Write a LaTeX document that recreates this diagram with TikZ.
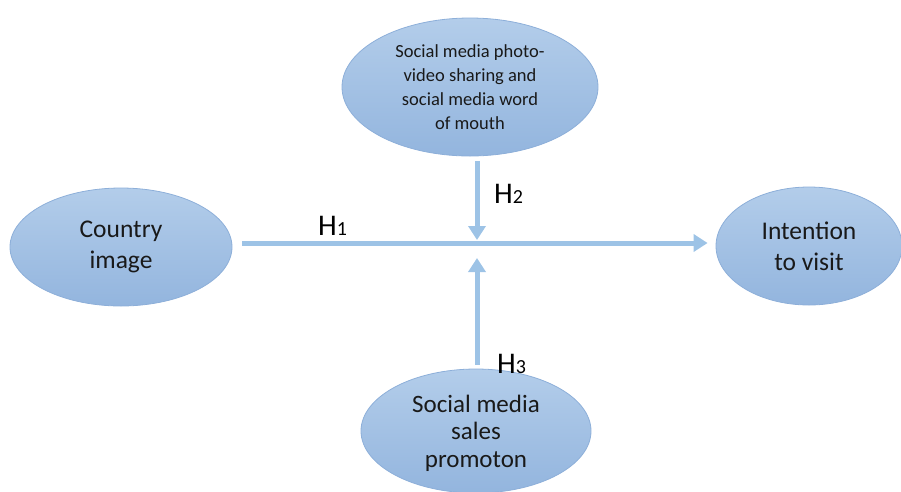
\documentclass[tikz,border=0pt]{standalone}
\usepackage{fontspec}
\setmainfont{Carlito}
\usetikzlibrary{arrows.meta,shapes.geometric}
\definecolor{ovaltop}{HTML}{B3CDEA}
\definecolor{ovalbot}{HTML}{93B5DE}
\definecolor{ovaledge}{HTML}{8DAFD9}
\definecolor{linkblue}{HTML}{9DC3E6}
\tikzset{
  oval/.style={ellipse, draw=ovaledge, line width=0.8pt, top color=ovaltop, bottom color=ovalbot,
    inner sep=0pt, align=center, text=black!90},
  bigtext/.style={font=\fontsize{25.5}{31}\selectfont},
  midtext/.style={font=\fontsize{25}{27.5}\selectfont},
  smalltext/.style={font=\fontsize{18.5}{24}\selectfont},
  link/.style={draw=linkblue, line width=5pt, -{Triangle[length=14pt,width=17pt]}},
  hyp/.style={inner sep=0pt, anchor=base west, text=black}
}
\newcommand{\hlabel}[1]{{\fontsize{30}{30}\selectfont H}{\fontsize{20}{20}\selectfont #1}}
\begin{document}
\begin{tikzpicture}[x=1pt,y=-1pt]
  \useasboundingbox (0,0) rectangle (901,491);
  % constructs
  \node[oval, bigtext, minimum width=222pt, minimum height=118pt] (ci) at (121,247) {Country\\image};
  \node[oval, smalltext, minimum width=256pt, minimum height=138pt] (sm) at (470,87)
    {Social media photo-\\video sharing and\\social media word\\of mouth};
  \node[oval, bigtext, minimum width=186pt, minimum height=118pt] (iv) at (809,246) {Intention\\to visit};
  \node[oval, midtext, minimum width=230pt, minimum height=124pt, text depth=0pt] (sp) at (476,431)
    {Social media\\sales\\promoton};
  % meeting point of the moderating paths on the main path
  \coordinate (m) at (477,243);
  % paths
  \draw[link, shorten <=10pt, shorten >=8pt] (ci.east |- m) -- (iv.west |- m);
  \draw[link, shorten <=5pt, shorten >=3pt] (m |- sm.south) -- (m);
  \draw[link, shorten <=4pt, shorten >=15pt] (m |- sp.north) -- (m);
  % hypothesis labels
  \node[hyp] (h1) at (318,235) {\hlabel{1}};
  \node[hyp] (h2) at (494,203) {\hlabel{2}};
  \node[hyp] (h3) at (497,373) {\hlabel{3}};
\end{tikzpicture}
\end{document}
